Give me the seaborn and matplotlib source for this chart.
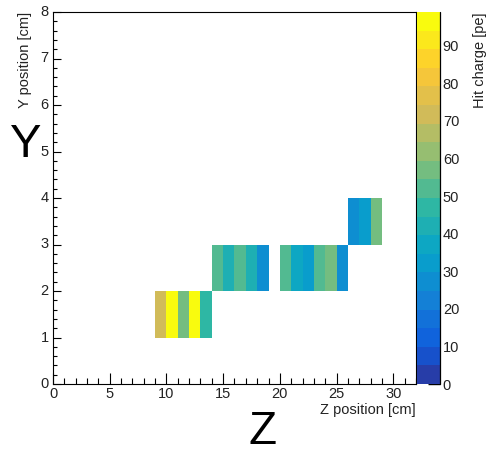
import numpy as np
import pandas as pd
import matplotlib
matplotlib.use("Agg")
import matplotlib.pyplot as plt
from matplotlib.colors import LinearSegmentedColormap, ListedColormap
from matplotlib.ticker import MultipleLocator
import seaborn as sns

# ---- data (hit cells: z bin start [cm], y bin start [cm], charge [pe]) ----
hit_z = [9, 10, 11, 12, 13,
         14, 15, 16, 17, 18,
         20, 21, 22, 23, 24, 25,
         26, 27, 28]
hit_y = [1, 1, 1, 1, 1,
         2, 2, 2, 2, 2,
         2, 2, 2, 2, 2, 2,
         3, 3, 3]
hit_charge = [72, 97, 57, 97, 47,
              52, 42, 52, 42, 27,
              52, 37, 32, 52, 57, 27,
              27, 32, 57]
n_z_bins = 32
n_y_bins = 8
z_max = 99.0
n_contours = 20
x_major = [0, 5, 10, 15, 20, 25, 30]
y_major = [0, 1, 2, 3, 4, 5, 6, 7, 8]
cbar_ticks = [0, 10, 20, 30, 40, 50, 60, 70, 80, 90]

sns.set_style("white")
plt.rcParams['font.family'] = ['Liberation Sans', 'DejaVu Sans']
plt.rcParams['text.color'] = 'black'
plt.rcParams['xtick.color'] = 'black'
plt.rcParams['ytick.color'] = 'black'
plt.rcParams['xtick.labelcolor'] = '#222222'
plt.rcParams['ytick.labelcolor'] = '#222222'

# ROOT kBird palette
stops = [0.0, 0.125, 0.25, 0.375, 0.5, 0.625, 0.75, 0.875, 1.0]
red = [0.2082, 0.0592, 0.0780, 0.0232, 0.1802, 0.5301, 0.8186, 0.9956, 0.9764]
green = [0.1664, 0.3599, 0.5041, 0.6419, 0.7178, 0.7492, 0.7328, 0.7862, 0.9832]
blue = [0.5293, 0.8684, 0.8385, 0.7914, 0.6425, 0.4662, 0.3499, 0.1968, 0.0539]
bird = LinearSegmentedColormap.from_list(
    "bird", list(zip(stops, zip(red, green, blue))), N=255)
band_cols = [bird(int((i + 0.99) * 255 / n_contours) / 254.0) for i in range(n_contours)]
cmap = ListedColormap(band_cols)

grid = np.full((n_y_bins, n_z_bins), np.nan)
for z, y, q in zip(hit_z, hit_y, hit_charge):
    grid[y, z] = q
df = pd.DataFrame(grid)

fig = plt.figure(figsize=(4.92, 4.54), dpi=100)
ax = fig.add_axes([53/492, 70/454, 363/492, 372/454])
cax = fig.add_axes([417/492, 70/454, 23/492, 372/454])

sns.heatmap(df, ax=ax, cbar_ax=cax, cmap=cmap, vmin=0, vmax=z_max,
            mask=df.isna(), linewidths=0)

ax.set_xlim(0, n_z_bins)
ax.set_ylim(0, n_y_bins)
for s in ax.spines.values():
    s.set_visible(True)
    s.set_color('black')
    s.set_linewidth(0.8)

fs = 10.5
ax.set_xticks(x_major)
ax.set_xticklabels([str(v) for v in x_major], rotation=0)
ax.set_yticks(y_major)
ax.set_yticklabels([str(v) for v in y_major], rotation=0)
ax.xaxis.set_minor_locator(MultipleLocator(1))
ax.yaxis.set_minor_locator(MultipleLocator(0.2))
ax.tick_params(axis='x', which='major', direction='in', length=8, width=0.8,
               labelsize=fs, pad=2, bottom=True, top=False)
ax.tick_params(axis='x', which='minor', direction='in', length=4.5, width=0.8,
               bottom=True, top=False)
ax.tick_params(axis='y', which='major', direction='in', length=6, width=0.8,
               labelsize=fs, pad=3, left=True, right=False)
ax.tick_params(axis='y', which='minor', direction='in', length=3, width=0.8,
               left=True, right=False)
ax.set_xlabel("")
ax.set_ylabel("")

ax.text(1.0, -0.07, "Z position [cm]", transform=ax.transAxes,
        ha='right', va='center', fontsize=fs, color='#222222')
ax.text(-0.077, 1.0, "Y position [cm]", transform=ax.transAxes,
        ha='center', va='top', rotation=90, fontsize=fs, color='#222222')

# colorbar styling
cb = ax.collections[0].colorbar
cb.outline.set_visible(False)
cb.set_ticks(cbar_ticks)
cb.set_ticklabels([str(v) for v in cbar_ticks])
cax.yaxis.set_ticks_position('right')
cax.tick_params(axis='y', which='major', direction='in', length=8.5, width=1.0,
                labelsize=fs, pad=2)
cax.minorticks_off()
cax.plot([1, 1], [0, 1], transform=cax.transAxes, color='black', lw=0.9,
         clip_on=False)
fig.text(480/492, 1 - 12/454, "Hit charge [pe]", rotation=90,
         ha='center', va='top', fontsize=fs, color='#222222')

# big axis letters
fig.text(26/492, 1 - 145/454, "Y", fontsize=34, ha='center', va='center')
fig.text(263/492, 1 - 432/454, "Z", fontsize=33, ha='center', va='center')

fig.savefig("out.png", dpi=100)
